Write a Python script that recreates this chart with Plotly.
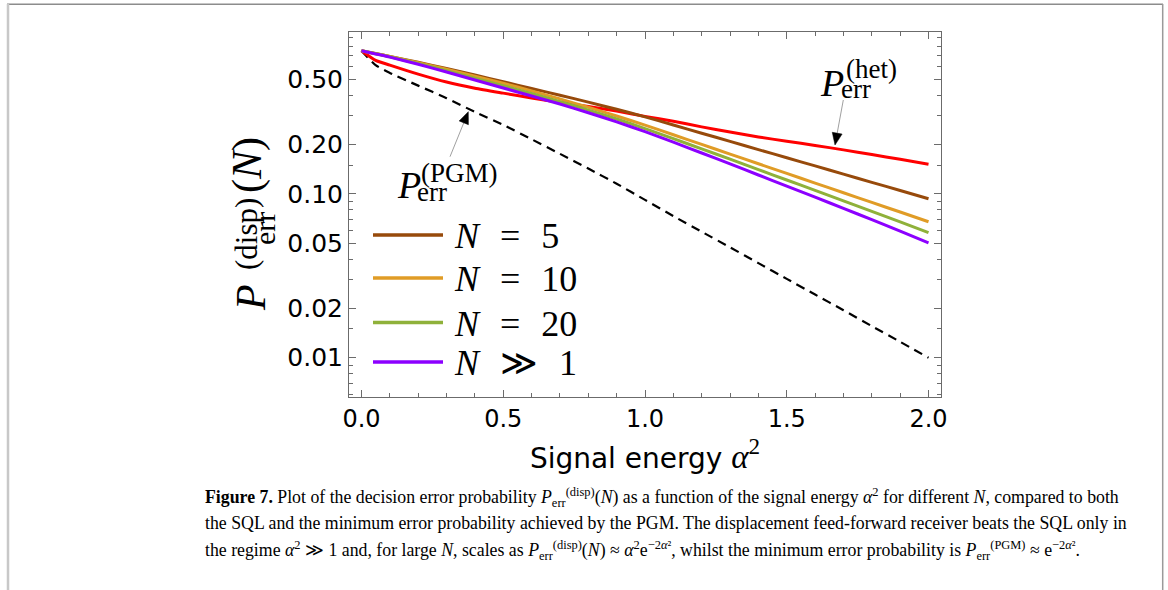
import plotly.graph_objects as go

# ---------------- data ----------------
alpha2 = [0.0, 0.05, 0.1, 0.2, 0.3, 0.4, 0.5, 0.6, 0.7, 0.8, 0.9, 1.0,
          1.1, 1.2, 1.3, 1.4, 1.5, 1.6, 1.7, 1.8, 1.9, 2.0]

p_n5 = [0.75, 0.721, 0.6927, 0.6370, 0.5835, 0.5328, 0.4848, 0.441, 0.401, 0.364, 0.329, 0.296,
        0.2638, 0.2351, 0.2095, 0.1867, 0.1665, 0.1484, 0.1322, 0.1178, 0.1050, 0.0936]
p_n10 = [0.75, 0.7202, 0.6920, 0.6340, 0.5782, 0.5249, 0.4744, 0.4262, 0.3807, 0.3386, 0.2996, 0.2633,
         0.2299, 0.2007, 0.1752, 0.1530, 0.1335, 0.1166, 0.1018, 0.0888, 0.0776, 0.0677]
p_n20 = [0.75, 0.7185, 0.6887, 0.6265, 0.5666, 0.5103, 0.4584, 0.4106, 0.3668, 0.3254, 0.2870, 0.2510,
         0.2179, 0.1886, 0.1631, 0.1409, 0.1217, 0.1052, 0.0908, 0.0783, 0.0675, 0.0580]
p_ninf = [0.75, 0.717, 0.6857, 0.6196, 0.5561, 0.4972, 0.4441, 0.3968, 0.3544, 0.3137, 0.2758, 0.2402,
          0.2073, 0.1780, 0.1527, 0.1306, 0.1117, 0.0956, 0.0817, 0.0697, 0.0593, 0.0503]
p_het = [0.75, 0.655, 0.613, 0.540, 0.483, 0.443, 0.413, 0.386, 0.363, 0.342, 0.321, 0.298,
         0.278, 0.257, 0.239, 0.223, 0.210, 0.198, 0.186, 0.174, 0.163, 0.152]
p_pgm = [0.75, 0.612, 0.549, 0.459, 0.385, 0.317, 0.264, 0.216, 0.176, 0.143, 0.1155, 0.092,
         0.0733, 0.0588, 0.0472, 0.0378, 0.0303, 0.0243, 0.0195, 0.0156, 0.0125, 0.0100]

series_names = ["N = 5", "N = 10", "N = 20", "N ≫ 1"]
series_labels = ["<i>N</i>\u2002\u200a=\u2002\u200a5", "<i>N</i>\u2002\u200a=\u2002\u200a10",
                 "<i>N</i>\u2002\u200a=\u2002\u200a20", "<i>N</i>\u2002\u200a≫\u2002\u200a1"]
series_colors = ["#974A0B", "#E09C26", "#8FB13A", "#8C00FF"]

x_ticks = [0.0, 0.5, 1.0, 1.5, 2.0]
x_ticktext = ["0.0", "0.5", "1.0", "1.5", "2.0"]
x_minor = [0.1, 0.2, 0.3, 0.4, 0.6, 0.7, 0.8, 0.9, 1.1, 1.2, 1.3, 1.4,
           1.6, 1.7, 1.8, 1.9]
y_ticks = [0.01, 0.02, 0.05, 0.1, 0.2, 0.5]
y_ticktext = ["0.01", "0.02", "0.05", "0.10", "0.20", "0.50"]
y_minor = [0.006, 0.007, 0.008, 0.009, 0.015, 0.03, 0.04, 0.06, 0.07, 0.08, 0.09,
           0.15, 0.3, 0.4, 0.6, 0.7, 0.8, 0.9]

# ---------------- layout geometry (pixels) ----------------
FW, FH = 1168, 590
L, R, T, B = 349, 941, 32, 397
W, H = R - L, B - T


def PX(px):
    return (px - L) / W


def PY(py):
    return (B - py) / H


AX = "#6b6b6b"
SERIF = "Liberation Serif"
SANS = "DejaVu Sans"

fig = go.Figure()

fig.add_trace(go.Scatter(x=alpha2, y=p_pgm, mode="lines", name="PGM",
                         line=dict(color="black", width=2.2, dash="9px,6px", shape="spline",
                                   smoothing=0.6)))
fig.add_trace(go.Scatter(x=alpha2, y=p_het, mode="lines", name="het",
                         line=dict(color="#FF0000", width=3, shape="spline", smoothing=0.6)))
for ys, nm, col in zip([p_n5, p_n10, p_n20, p_ninf], series_names, series_colors):
    fig.add_trace(go.Scatter(x=alpha2, y=ys, mode="lines", name=nm,
                             line=dict(color=col, width=3, shape="spline", smoothing=0.6)))

fig.update_layout(
    width=FW, height=FH,
    margin=dict(l=L, r=FW - R, t=T, b=FH - B, autoexpand=False),
    paper_bgcolor="white", plot_bgcolor="white",
    showlegend=False,
    xaxis=dict(
        range=[-0.044, 2.044], showgrid=False, zeroline=False,
        showline=True, linecolor=AX, linewidth=1, mirror="ticks",
        ticks="inside", ticklen=7, tickwidth=1, tickcolor=AX,
        tickvals=x_ticks, ticktext=x_ticktext,
        tickfont=dict(family=SANS, size=24, color="black"),
        minor=dict(tickvals=x_minor, ticks="inside", ticklen=4, tickwidth=1, tickcolor=AX),
        title=dict(text="Signal energy <span style='font-family:Liberation Serif;font-size:33px'>"
                        "<i>α</i><sup>2</sup></span>",
                   font=dict(family=SANS, size=28, color="black"), standoff=10),
    ),
    yaxis=dict(
        type="log", range=[-2.240, -0.0106], showgrid=False, zeroline=False,
        showline=True, linecolor=AX, linewidth=1, mirror="ticks",
        ticks="inside", ticklen=7, tickwidth=1, tickcolor=AX,
        tickvals=y_ticks, ticktext=y_ticktext,
        tickfont=dict(family=SANS, size=25, color="black"),
        minor=dict(tickvals=y_minor, ticks="inside", ticklen=4, tickwidth=1, tickcolor=AX),
    ),
)

shapes = []
annotations = []

# ----- legend drawn by hand inside the plot -----
leg_y = [235, 278, 322.5, 362]
for lab, col, yy in zip(series_labels, series_colors, leg_y):
    shapes.append(dict(type="line", xref="paper", yref="paper",
                       x0=PX(373), x1=PX(443), y0=PY(yy), y1=PY(yy),
                       line=dict(color=col, width=3.5)))
    annotations.append(dict(xref="paper", yref="paper", x=PX(452), y=PY(yy + 1),
                            xanchor="left", yanchor="middle", showarrow=False,
                            text=lab, font=dict(family=SERIF, size=36, color="black")))


def stacked_label(px_left, py_mid, sup, big=38, small=27, dx_sub=21, dx_sup=26,
                  sub_dy=7, sup_dy=-14):
    """P with stacked subscript 'err' and superscript (pixel positions)."""
    annotations.append(dict(xref="paper", yref="paper", x=PX(px_left), y=PY(py_mid),
                            xanchor="left", yanchor="middle", showarrow=False,
                            text="<i>P</i>", font=dict(family=SERIF, size=big, color="black")))
    annotations.append(dict(xref="paper", yref="paper", x=PX(px_left + dx_sub), y=PY(py_mid + sub_dy),
                            xanchor="left", yanchor="middle", showarrow=False,
                            text="err", font=dict(family=SERIF, size=small, color="black")))
    annotations.append(dict(xref="paper", yref="paper", x=PX(px_left + dx_sup),
                            y=PY(py_mid + sup_dy), xanchor="left", yanchor="middle",
                            showarrow=False, text=sup,
                            font=dict(family=SERIF, size=small, color="black")))


def arrow(tail, tip, head_len=12, head_half=5):
    """thin grey shaft with a black filled head (pixel coordinates)."""
    (x0, y0), (x1, y1) = tail, tip
    dx, dy = x1 - x0, y1 - y0
    n = (dx * dx + dy * dy) ** 0.5
    ux, uy = dx / n, dy / n
    bx, by = x1 - head_len * ux, y1 - head_len * uy
    shapes.append(dict(type="line", xref="paper", yref="paper",
                       x0=PX(x0), y0=PY(y0), x1=PX(bx), y1=PY(by),
                       line=dict(color="#a0a0a0", width=1)))
    px_, py_ = -uy, ux
    pts = [(x1, y1), (bx + head_half * px_, by + head_half * py_),
           (bx - head_half * px_, by - head_half * py_)]
    path = "M " + " L ".join(f"{PX(a):.5f},{PY(b):.5f}" for a, b in pts) + " Z"
    shapes.append(dict(type="path", xref="paper", yref="paper", path=path,
                       fillcolor="black", line=dict(color="black", width=0.5)))


# P_err^(het) label and arrow
stacked_label(818, 82.5, "(het)")
arrow((843.3, 100), (835, 145))
# P_err^(PGM) label and arrow
stacked_label(395, 185, "(PGM)", dx_sub=20, dx_sup=24, sup_dy=-12)
arrow((450, 156.7), (468.3, 111.7))

# ----- y-axis title, rotated, with stacked sub/superscripts -----
annotations.append(dict(xref="paper", yref="paper", x=PX(251), y=PY(298), textangle=-90,
                        xanchor="center", yanchor="middle", showarrow=False, text="<i>P</i>",
                        font=dict(family=SERIF, size=42, color="black")))
annotations.append(dict(xref="paper", yref="paper", x=PX(264), y=PY(229), textangle=-90,
                        xanchor="center", yanchor="middle", showarrow=False, text="err",
                        font=dict(family=SERIF, size=30, color="black")))
annotations.append(dict(xref="paper", yref="paper", x=PX(247), y=PY(234), textangle=-90,
                        xanchor="center", yanchor="middle", showarrow=False, text="(disp)",
                        font=dict(family=SERIF, size=31, color="black")))
annotations.append(dict(xref="paper", yref="paper", x=PX(248), y=PY(165), textangle=-90,
                        xanchor="center", yanchor="middle", showarrow=False, text="(<i>N</i>)",
                        font=dict(family=SERIF, size=42, color="black")))

# ----- caption -----
cap_lines = [
    "<b>Figure 7.</b> Plot of the decision error probability <i>P</i><sub>err</sub><sup>(disp)</sup>(<i>N</i>) "
    "as a function of the signal energy <i>α</i><sup>2</sup> for different <i>N</i>, compared to both",
    "the SQL and the minimum error probability achieved by the PGM. The displacement feed-forward "
    "receiver beats the SQL only in",
    "the regime <i>α</i><sup>2</sup> ≫ 1 and, for large <i>N</i>, scales as "
    "<i>P</i><sub>err</sub><sup>(disp)</sup>(<i>N</i>) ≈ <i>α</i><sup>2</sup>e<sup>−2<i>α</i>²</sup>, "
    "whilst the minimum error probability is <i>P</i><sub>err</sub><sup>(PGM)</sup> ≈ e<sup>−2<i>α</i>²</sup>.",
]
cap_y = [497, 523, 550]
for txt, yy in zip(cap_lines, cap_y):
    annotations.append(dict(xref="paper", yref="paper", x=PX(203), y=PY(yy),
                            xanchor="left", yanchor="middle", showarrow=False, text=txt,
                            font=dict(family=SERIF, size=17.8, color="black")))

# ----- page frame -----
shapes.append(dict(type="line", xref="paper", yref="paper", x0=PX(7), x1=PX(1163),
                   y0=PY(4.3), y1=PY(4.3), line=dict(color="#8c8c8c", width=1.5)))
shapes.append(dict(type="line", xref="paper", yref="paper", x0=PX(8), x1=PX(8),
                   y0=PY(4), y1=PY(592), line=dict(color="#c8c8c8", width=2.5)))
shapes.append(dict(type="line", xref="paper", yref="paper", x0=PX(1162.7), x1=PX(1162.7),
                   y0=PY(4), y1=PY(592), line=dict(color="#9a9a9a", width=1.5)))

fig.update_layout(shapes=shapes, annotations=annotations)
fig.write_html("out.html", config={"displayModeBar": False},
               post_script="document.body.style.margin='0';document.body.style.overflow='hidden';")
